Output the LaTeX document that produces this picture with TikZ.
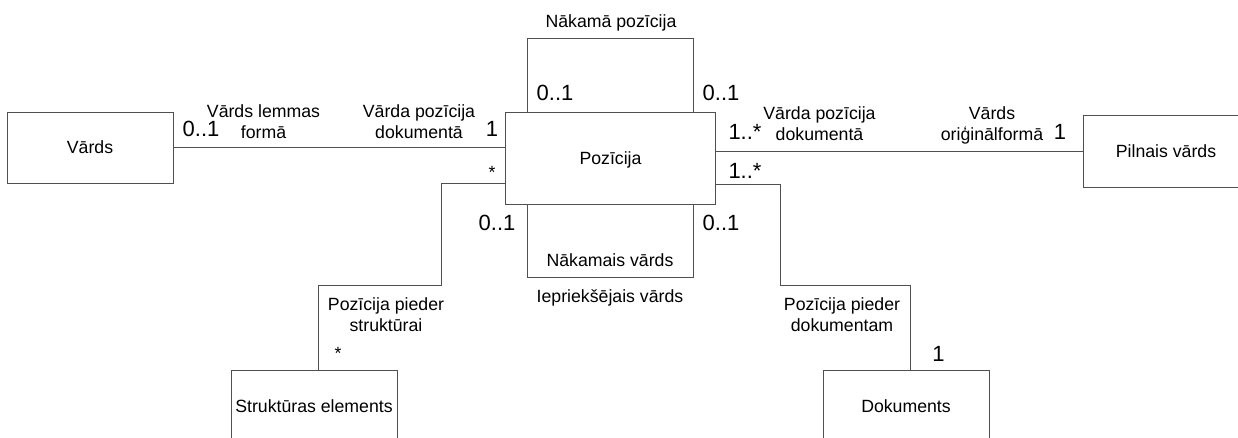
\documentclass[tikz,border=0pt]{standalone}
\usepackage{fontspec}
\setmainfont{Liberation Sans}
\definecolor{linegray}{HTML}{505050}
\begin{document}
\begin{tikzpicture}[x=1pt,y=-1pt,
  cls/.style={draw=linegray, line width=1pt, fill=white, inner sep=0pt,
    minimum width=166pt, minimum height=72pt, text depth=0pt,
    font=\fontsize{17.7}{21}\selectfont},
  conn/.style={draw=linegray, line width=1pt},
  lbl/.style={inner sep=0pt, align=center, font=\fontsize{17.7}{21}\selectfont},
  mult/.style={inner sep=0pt, font=\fontsize{22}{24}\selectfont},
  star/.style={inner sep=0pt, font=\fontsize{17.7}{21}\selectfont}]
\clip (0,0) rectangle (1238,437);

% classes
\node[cls, minimum height=71pt] (vards) at (90,147.5) {Vārds};
\node[cls, minimum width=210pt, minimum height=92pt] (poz) at (610.5,158) {Pozīcija};
\node[cls] (pilnais) at (1166,151) {Pilnais vārds};
\node[cls] (struk) at (314,406) {Struktūras elements};
\node[cls] (dok) at (906,406) {Dokuments};

% associations
\draw[conn] (vards.east) -- (vards.east -| poz.west);
\draw[conn] ([yshift=-25pt]poz.west) -| (441,285) -| ([xshift=4pt]struk.north);
\draw[conn] (pilnais.west) -- (pilnais.west -| poz.east);
\draw[conn] ([yshift=-26pt]poz.east) -| (780,285) -| ([xshift=4pt]dok.north);
% self associations of Pozīcija
\draw[conn] ([xshift=-83.5pt]poz.north) -- ++(0,-73) -| ([xshift=82.5pt]poz.north);
\draw[conn] ([xshift=-83.5pt]poz.south) -- ++(0,73) -| ([xshift=82.5pt]poz.south);

% role names
\node[lbl] (rnext) at (611,23) {Nākamā pozīcija};
\node[lbl] (rlemma) at (263.5,122) {Vārds lemmas\\formā};
\node[lbl] (rposl) at (419,122) {Vārda pozīcija\\dokumentā};
\node[lbl] (rnextw) at (610,260.5) {Nākamais vārds};
\node[lbl] (rprev) at (610,298) {Iepriekšējais vārds};
\node[lbl] (rstruct) at (386,315) {Pozīcija pieder\\struktūrai};
\node[lbl] (rdoc) at (842,315) {Pozīcija pieder\\dokumentam};
\node[lbl] (rposr) at (819.5,123.5) {Vārda pozīcija\\dokumentā};
\node[lbl] (rorig) at (992,125) {Vārds\\oriģinālformā};

% multiplicities
\node[mult] (mtl) at (555,93.3) {0..1};
\node[mult] (mtr) at (721,93.3) {0..1};
\node[mult] (mvards) at (201,128.7) {0..1};
\node[mult] (mpozl) at (492,129) {1};
\node[star] (mpozs) at (492,172) {*};
\node[mult] (mbl) at (497,223.3) {0..1};
\node[mult] (mbr) at (721,223.3) {0..1};
\node[mult] (mpozr) at (745,132) {1..*};
\node[mult] (mpozd) at (745,171) {1..*};
\node[mult] (mpiln) at (1060,132) {1};
\node[star] (mstruk) at (338,353.5) {*};
\node[mult] (mdok) at (938.5,354) {1};
\end{tikzpicture}
\end{document}
